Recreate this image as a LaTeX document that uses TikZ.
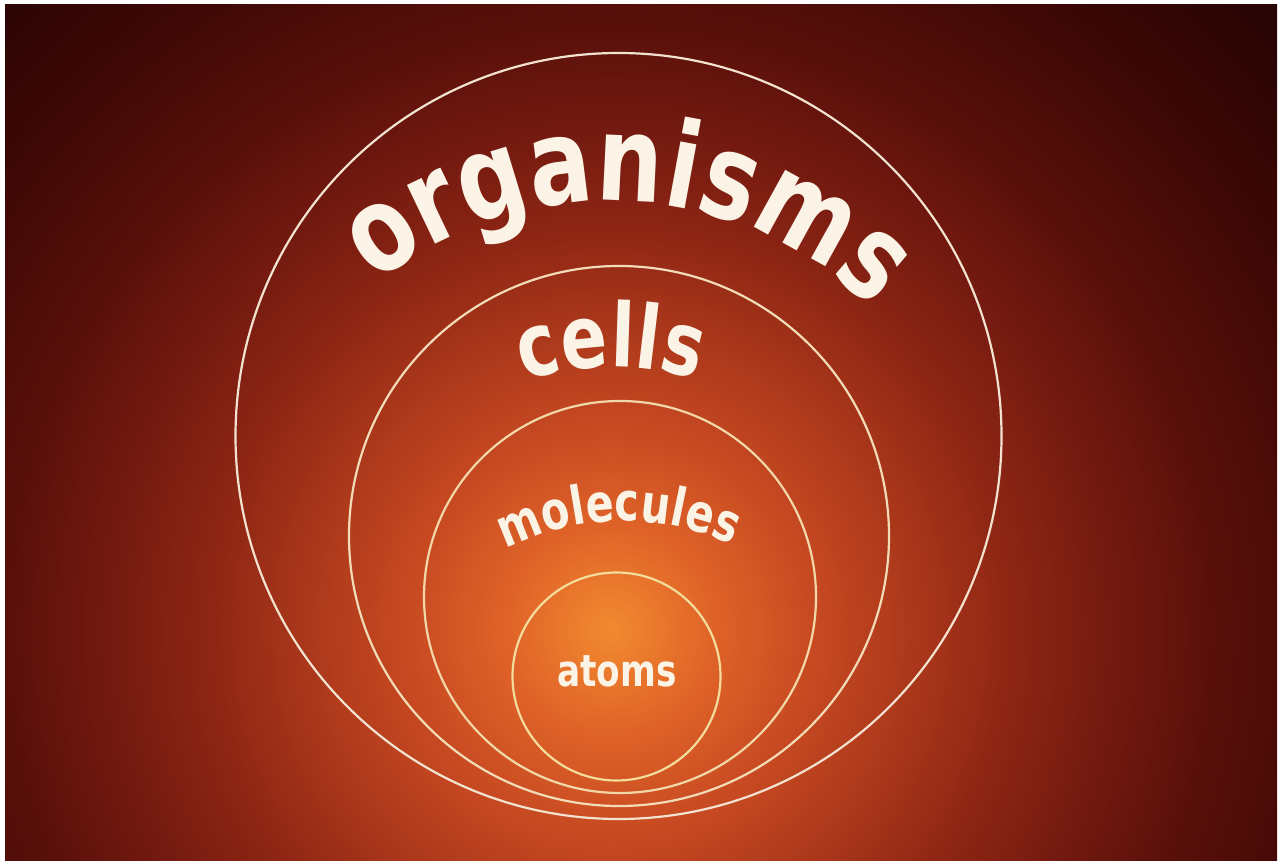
\documentclass[tikz,border=0pt]{standalone}
\usepackage{fontspec}
\newfontfamily\lblfont{DejaVu Sans}[FakeStretch=0.78]
\usetikzlibrary{decorations.text}
\definecolor{g0}{HTML}{F28A30}
\definecolor{g1}{HTML}{E06428}
\definecolor{g2}{HTML}{C84A22}
\definecolor{g3}{HTML}{AC381B}
\definecolor{g4}{HTML}{8E2614}
\definecolor{g5}{HTML}{741A10}
\definecolor{g6}{HTML}{5A100A}
\definecolor{g7}{HTML}{3E0806}
\definecolor{g8}{HTML}{280404}
\definecolor{ringA}{HTML}{F2E2D0}
\definecolor{ringB}{HTML}{F2DCB8}
\definecolor{ringC}{HTML}{F2D8A8}
\definecolor{ringD}{HTML}{F3DC9C}
\definecolor{lbltxt}{HTML}{FBF4E6}
\pgfdeclareradialshading{glow}{\pgfpoint{0bp}{0bp}}{color(0bp)=(g0); color(2.78bp)=(g1); color(5.56bp)=(g2); color(8.33bp)=(g3); color(11.11bp)=(g4); color(13.89bp)=(g5); color(16.67bp)=(g6); color(20.83bp)=(g7); color(25bp)=(g8); color(50bp)=(g8)}
\begin{document}
\begin{tikzpicture}[x=1pt,y=1pt,
  ring/.style={circle, draw, line width=2.2pt, inner sep=0pt},
  curvelbl/.style={decorate, decoration={text along path, text align=center, text color=lbltxt, text={#1}}}]
\useasboundingbox (0,0) rectangle (1281,865);
\fill[white] (0,0) rectangle (1281,865);
\begin{scope}
  \clip (5,5) rectangle (1277,860);
  \shade[shading=glow] (-290,-665) rectangle (1510,1135);
\end{scope}
% nested rings
\node[ring, draw=ringA, minimum size=766pt] (organisms) at (618.5,429) {};
\node[ring, draw=ringB, minimum size=540pt] (cells) at (619,329) {};
\node[ring, draw=ringC, minimum size=392pt] (molecules) at (620,268) {};
\node[ring, draw=ringD, minimum size=208pt] (atoms) at (616.5,188.5) {};
% curved labels
\path[curvelbl={|\lblfont\bfseries\fontsize{119pt}{119pt}\selectfont|organisms}]
  ([shift={(147.1:372pt)}]610,292) arc[start angle=147.1, end angle=27.1, radius=372pt];
\path[curvelbl={|\lblfont\bfseries\fontsize{88pt}{88pt}\selectfont|cells}]
  ([shift={(130.5:273pt)}]613,225) arc[start angle=130.5, end angle=50.5, radius=273pt];
\path[curvelbl={|\lblfont\bfseries\fontsize{53pt}{53pt}\selectfont|molecules}]
  ([shift={(131:260pt)}]623,84) arc[start angle=131, end angle=51, radius=260pt];
\node[anchor=base, text=lbltxt, inner sep=0pt, font=\lblfont\bfseries\fontsize{44pt}{44pt}\selectfont] (atomslbl) at (617,179) {atoms};
\end{tikzpicture}
\end{document}
